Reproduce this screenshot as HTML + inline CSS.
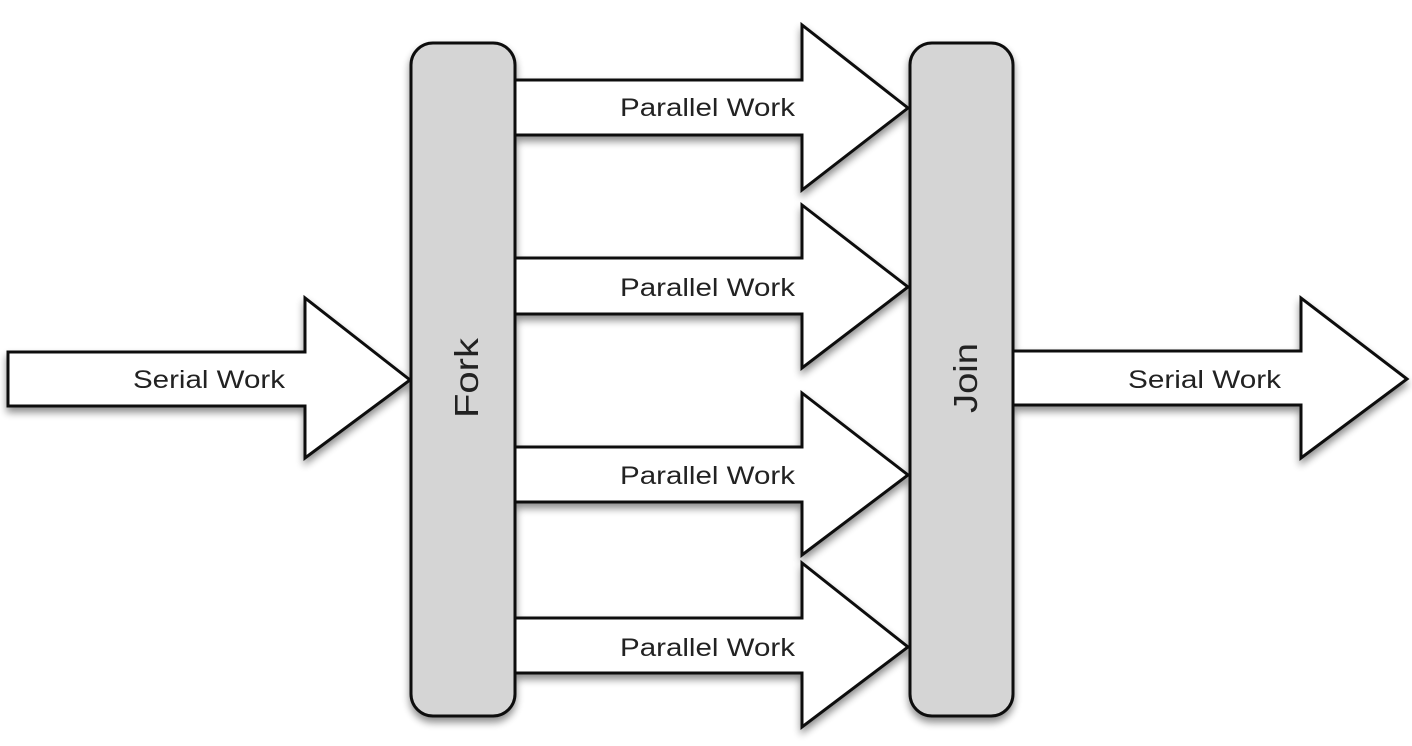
<!DOCTYPE html>
<html><head><meta charset="utf-8"><style>
html,body{margin:0;padding:0;background:#fff;}
svg{display:block;}
text{font-family:"Liberation Sans",sans-serif;fill:#222;}
</style></head><body>
<svg width="1412" height="746" viewBox="0 0 1412 746" xmlns="http://www.w3.org/2000/svg">
<defs>
<filter id="sh" x="-20%" y="-20%" width="140%" height="140%">
<feGaussianBlur in="SourceAlpha" stdDeviation="4"/>
<feOffset dx="0" dy="5" result="b"/>
<feComponentTransfer><feFuncA type="linear" slope="0.45"/></feComponentTransfer>
<feMerge><feMergeNode/><feMergeNode in="SourceGraphic"/></feMerge>
</filter>
</defs>
<g stroke="#111" stroke-width="3" stroke-linejoin="miter" fill="#fff" filter="url(#sh)">
<!-- left serial -->
<path d="M8 352 H305 V298 L410 380 L305 458 V406 H8 Z"/>
<!-- right serial -->
<path d="M1013 351 H1301 V298 L1407 379 L1301 458 V405 H1013 Z"/>
<!-- parallel arrows -->
<path d="M515 80 H802 V25 L908 108 L802 190 V135 H515 Z"/>
<path d="M515 258 H802 V205 L908 287 L802 368 V314 H515 Z"/>
<path d="M515 447 H802 V393 L908 475 L802 555 V502 H515 Z"/>
<path d="M515 618 H802 V563 L908 647 L802 727 V673 H515 Z"/>
<!-- fork & join -->
<rect x="411" y="43" width="104" height="673" rx="22" fill="#d5d5d5"/>
<rect x="910" y="43" width="103" height="673" rx="22" fill="#d5d5d5"/>
</g>
<g font-size="25">
<text x="285" y="388" text-anchor="end" textLength="152" lengthAdjust="spacingAndGlyphs">Serial Work</text>
<text x="1281" y="388" text-anchor="end" textLength="153" lengthAdjust="spacingAndGlyphs">Serial Work</text>
<text x="795" y="116" text-anchor="end" textLength="175" lengthAdjust="spacingAndGlyphs">Parallel Work</text>
<text x="795" y="296" text-anchor="end" textLength="175" lengthAdjust="spacingAndGlyphs">Parallel Work</text>
<text x="795" y="484" text-anchor="end" textLength="175" lengthAdjust="spacingAndGlyphs">Parallel Work</text>
<text x="795" y="656" text-anchor="end" textLength="175" lengthAdjust="spacingAndGlyphs">Parallel Work</text>
</g>
<text font-size="33" transform="translate(478 378) rotate(-90)" text-anchor="middle" textLength="80" lengthAdjust="spacingAndGlyphs">Fork</text>
<text font-size="33" transform="translate(977 378) rotate(-90)" text-anchor="middle" textLength="70" lengthAdjust="spacingAndGlyphs">Join</text>
</svg>
</body></html>
